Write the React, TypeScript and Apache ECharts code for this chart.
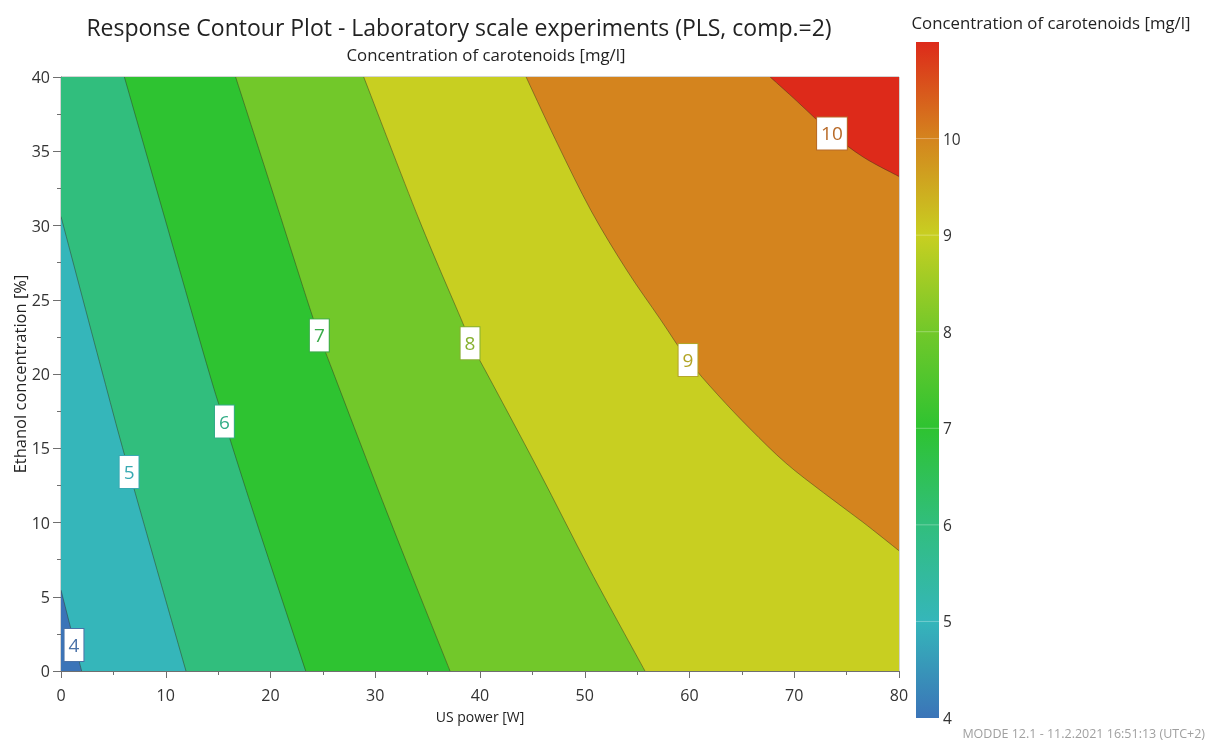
import React, { useEffect, useRef } from 'react';
import * as echarts from 'echarts';

// ---- data ----
const levels = [4, 5, 6, 7, 8, 9, 10];

// contour lines (x = US power [W], y = Ethanol concentration [%]), ordered from upper/left end to lower/right end
const contour4 = [[0, 5.45], [1.97, 0]];
const contour5 = [[0, 30.6], [3.88, 20.27], [6.52, 13.4], [11.93, 0]];
const contour6 = [[6.05, 40], [9.96, 30.37], [14.07, 20.27], [15.6, 16.8], [18.6, 10.17], [23.36, 0]];
const contour7 = [[16.67, 40], [20.05, 32.6], [23.6, 24.76], [24.66, 22.6], [25.9, 20.27], [31.4, 10.17], [37.14, 0]];
const contour8 = [[28.9, 40], [34.2, 30.37], [38.5, 23.19], [39.05, 22.07], [40.48, 20.27], [45.6, 13.5], [50.5, 6.8], [55.75, 0]];
const contour9 = [[44.4, 40], [47.4, 35.5], [50.6, 31.0], [54.0, 27.0], [57.2, 23.7], [59.86, 20.94], [62.7, 18.6], [65.8, 16.3], [69.2, 14.0], [72.8, 12.0], [76.5, 10.05], [80, 8.1]];
const contour10 = [[67.7, 40], [69.9, 38.6], [73.6, 36.2], [76.6, 34.6], [80, 33.3]];
const contours = [contour4, contour5, contour6, contour7, contour8, contour9, contour10];

// positions of the level labels
const labelPoints = [[1.24, 1.75], [6.5, 13.4], [15.6, 16.8], [24.66, 22.6], [39.05, 22.07], [59.86, 20.94], [73.6, 36.2]];

// colour scale
const scaleValues = [4, 5, 6, 7, 8, 9, 10, 11];
const scaleColors = ['#3b74b8', '#35b6ba', '#31be7d', '#2ec331', '#72c82a', '#c8cf21', '#d4841e', '#dd2a1a'];
const labelColors = ['#4a72a8', '#38a9b2', '#33ad86', '#3aab4a', '#86b030', '#b2a424', '#b86a28'];

const xMin = 0, xMax = 80, xStep = 10;
const yMin = 0, yMax = 40, yStep = 5;
const cbMin = 4, cbMax = 11, cbStep = 1;
const cbTicks = [5, 6, 7, 8, 9, 10];

const FONT = "'Open Sans', 'Noto Sans', sans-serif";

// smooth curve through pixel points (Catmull-Rom as cubic Béziers), without the initial move
function curveSegments(p: number[][]): string {
  let d = '';
  for (let i = 0; i < p.length - 1; i++) {
    const p0 = p[Math.max(i - 1, 0)];
    const p1 = p[i];
    const p2 = p[i + 1];
    const p3 = p[Math.min(i + 2, p.length - 1)];
    const c1x = p1[0] + (p2[0] - p0[0]) / 6;
    const c1y = p1[1] + (p2[1] - p0[1]) / 6;
    const c2x = p2[0] - (p3[0] - p1[0]) / 6;
    const c2y = p2[1] - (p3[1] - p1[1]) / 6;
    d += ` C${c1x.toFixed(2)},${c1y.toFixed(2)} ${c2x.toFixed(2)},${c2y.toFixed(2)} ${p2[0].toFixed(2)},${p2[1].toFixed(2)}`;
  }
  return d;
}

export default function App() {
  const ref = useRef<HTMLDivElement>(null);
  useEffect(() => {
    if (!ref.current) return;
    const chart = echarts.init(ref.current, null, { renderer: 'svg' });

    const fillData = [0, 1, 2, 3, 4, 5, 6, 7].map((i) => [i]);

    const option: any = {
      animation: false,
      textStyle: { fontFamily: FONT },
      graphic: [
        { type: 'text', x: 459, y: 27, style: { text: 'Response Contour Plot - Laboratory scale experiments (PLS, comp.=2)', fontSize: 23, fontFamily: FONT, fill: '#222', align: 'center', verticalAlign: 'middle' } },
        { type: 'text', x: 486, y: 54, style: { text: 'Concentration of carotenoids [mg/l]', fontSize: 16.8, fontFamily: FONT, fill: '#222', align: 'center', verticalAlign: 'middle' } },
        { type: 'text', x: 1051, y: 22, style: { text: 'Concentration of carotenoids [mg/l]', fontSize: 16.8, fontFamily: FONT, fill: '#222', align: 'center', verticalAlign: 'middle' } },
        { type: 'text', x: 1205, y: 733, style: { text: 'MODDE 12.1 - 11.2.2021 16:51:13 (UTC+2)', fontSize: 12.5, lineHeight: 13, fontFamily: FONT, fill: '#a0a0a0', align: 'right', verticalAlign: 'middle' } },
      ],
      grid: [
        { left: 61, top: 77, width: 838, height: 594, show: true, borderColor: '#a8a8a8', borderWidth: 1, backgroundColor: 'transparent', outerBoundsMode: 'none', containLabel: false },
        { left: 916, top: 42, width: 23, height: 676, outerBoundsMode: 'none', containLabel: false },
      ],
      xAxis: [
        {
          type: 'value', gridIndex: 0, min: xMin, max: xMax, interval: xStep,
          name: 'US power [W]', nameLocation: 'middle', nameGap: 38, nameMoveOverlap: false,
          nameTextStyle: { fontSize: 14, color: '#222', fontFamily: FONT },
          axisLine: { show: true, lineStyle: { color: '#6f6f6f' } },
          axisTick: { show: true, length: 7, lineStyle: { color: '#6f6f6f' } },
          minorTick: { show: true, splitNumber: 2, length: 4, lineStyle: { color: '#6f6f6f' } },
          splitLine: { show: false },
          axisLabel: { fontSize: 16, color: '#333', margin: 16, fontFamily: FONT },
        },
        { type: 'value', gridIndex: 1, min: 0, max: 1, show: false },
      ],
      yAxis: [
        {
          type: 'value', gridIndex: 0, min: yMin, max: yMax, interval: yStep,
          name: 'Ethanol concentration [%]', nameLocation: 'middle', nameGap: 33, nameMoveOverlap: false,
          nameTextStyle: { fontSize: 16.5, color: '#222', fontFamily: FONT },
          axisLine: { show: true, lineStyle: { color: '#6f6f6f' } },
          axisTick: { show: true, length: 8, lineStyle: { color: '#6f6f6f' } },
          minorTick: { show: true, splitNumber: 2, length: 4, lineStyle: { color: '#6f6f6f' } },
          splitLine: { show: false },
          axisLabel: { fontSize: 16, color: '#333', margin: 11, fontFamily: FONT },
        },
        {
          type: 'value', gridIndex: 1, min: cbMin, max: cbMax, interval: cbStep, position: 'right',
          axisLine: { show: false }, axisTick: { show: false }, splitLine: { show: false },
          axisLabel: { fontSize: 15.5, lineHeight: 15, color: '#333', margin: 4, fontFamily: FONT, formatter: (v: number) => (v >= cbMax ? '' : String(v)) },
        },
      ],
      series: [
        {
          type: 'custom',
          xAxisIndex: 0, yAxisIndex: 0,
          clip: true,
          data: fillData,
          renderItem: (params: any, api: any) => {
            const i = params.dataIndex;
            if (i === 0) {
              const pts = [[xMin, yMin], [xMax, yMin], [xMax, yMax], [xMin, yMax]].map((p) => api.coord(p));
              return { type: 'polygon', shape: { points: pts }, style: { fill: scaleColors[0] } };
            }
            const line = contours[i - 1];
            const first = line[0];
            const last = line[line.length - 1];
            const px = line.map((p) => api.coord(p));
            const corners: number[][] = [];
            if (last[1] === yMin) corners.push([xMax, yMin]);
            corners.push([xMax, yMax]);
            if (first[0] === xMin && first[1] < yMax) corners.push([xMin, yMax]);
            const cpx = corners.map((p) => api.coord(p));
            const curve = curveSegments(px);
            const start = `M${px[0][0].toFixed(2)},${px[0][1].toFixed(2)}`;
            const fillPath = start + curve + cpx.map((c) => ` L${c[0].toFixed(2)},${c[1].toFixed(2)}`).join('') + ' Z';
            const linePath = start + curve;
            return {
              type: 'group',
              children: [
                { type: 'path', shape: { pathData: fillPath }, style: { fill: scaleColors[i] } },
                { type: 'path', shape: { pathData: linePath }, style: { stroke: 'rgba(50,45,30,0.45)', lineWidth: 1, fill: 'none' } },
              ],
            };
          },
          z: 1,
        },
        {
          type: 'scatter',
          xAxisIndex: 0, yAxisIndex: 0,
          symbolSize: 1,
          itemStyle: { color: 'rgba(0,0,0,0)', opacity: 1 },
          z: 5,
          data: levels.map((l, i) => ({
            value: [labelPoints[i][0], labelPoints[i][1], l],
            label: { color: labelColors[i], borderColor: labelColors[i] },
          })),
          label: {
            show: true, position: 'inside',
            formatter: (p: any) => String(p.value[2]),
            backgroundColor: '#ffffff', borderWidth: 1, opacity: 1,
            padding: [6, 4, 5, 4], fontSize: 19, lineHeight: 21, fontFamily: FONT,
          },
        },
        {
          type: 'custom',
          xAxisIndex: 1, yAxisIndex: 1,
          data: [[0]],
          renderItem: (params: any, api: any) => {
            const tl = api.coord([0, cbMax]);
            const br = api.coord([1, cbMin]);
            const stops = scaleValues.map((v, k) => ({ offset: (v - cbMin) / (cbMax - cbMin), color: scaleColors[k] }));
            const children: any[] = [
              {
                type: 'rect',
                shape: { x: tl[0], y: tl[1], width: br[0] - tl[0], height: br[1] - tl[1] },
                style: { fill: new echarts.graphic.LinearGradient(0, 1, 0, 0, stops) },
              },
            ];
            cbTicks.forEach((t) => {
              const a = api.coord([0, t]);
              const b = api.coord([1, t]);
              children.push({ type: 'line', shape: { x1: a[0], y1: a[1], x2: b[0], y2: b[1] }, style: { stroke: 'rgba(255,255,255,0.3)', lineWidth: 1 } });
            });
            return { type: 'group', children };
          },
        },
      ],
    };
    chart.setOption(option);
    return () => chart.dispose();
  }, []);
  return <div ref={ref} style={{ position: 'fixed', left: 0, top: 0, width: 1208, height: 740 }} />;
}
